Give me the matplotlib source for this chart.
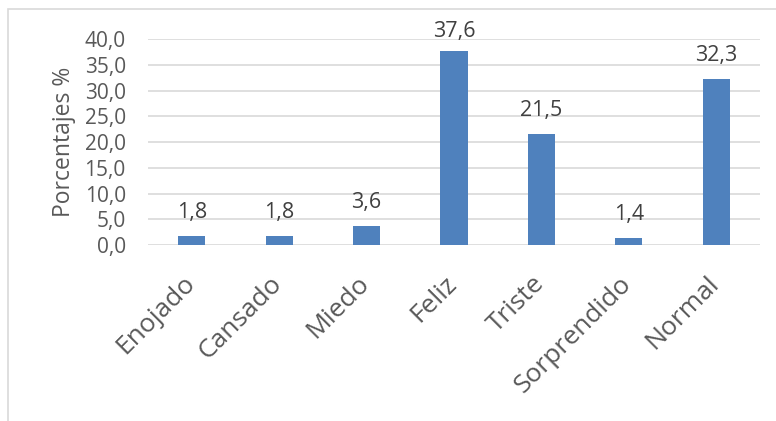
import matplotlib
matplotlib.use("Agg")
import matplotlib.pyplot as plt
from matplotlib.patches import Rectangle
from matplotlib.transforms import ScaledTranslation

categories = ["Enojado", "Cansado", "Miedo", "Feliz", "Triste", "Sorprendido", "Normal"]
values = [1.8, 1.8, 3.6, 37.6, 21.5, 1.4, 32.3]
yticks = [0, 5, 10, 15, 20, 25, 30, 35, 40]

plt.rcParams['font.family'] = ['Open Sans', 'DejaVu Sans']
txt = '#595959'

fig = plt.figure(figsize=(7.76, 4.21), dpi=100)
W, H = 776, 421
ax = fig.add_axes([148 / W, 1 - 245 / H, (760 - 148) / W, (245 - 39) / H])

x = list(range(len(categories)))
ax.bar(x, values, width=0.31, color='#4F81BD', zorder=3)
ax.set_xlim(-0.5, len(categories) - 0.5)
ax.set_ylim(0, 40)
ax.set_yticks(yticks)
ax.set_yticklabels([f"{v:.1f}".replace('.', ',') for v in yticks], color=txt, fontsize=15)
ax.yaxis.grid(True, color='#D9D9D9', linewidth=1.2, zorder=0)
ax.tick_params(axis='both', length=0)
ax.tick_params(axis='y', pad=16)
ax.tick_params(axis='x', pad=0)
for s in ax.spines.values():
    s.set_visible(False)
ax.set_xticks(x)
ax.set_xticklabels(categories, rotation=45, ha='right', va='top', fontsize=19, color=txt)
for lbl in ax.get_xticklabels():
    lbl.set_transform(lbl.get_transform() + ScaledTranslation(8 / 100, -26 / 100, fig.dpi_scale_trans))
ax.set_ylabel("Porcentajes %", color=txt, fontsize=16.5, labelpad=6)

bar_tops = ax.transData.transform([(xi, v) for xi, v in zip(x, values)])
top_limit = H - 37.5  # display coords (origin bottom)
for (xi, v), (_, ypx) in zip(zip(x, values), bar_tops):
    gap = min(18, top_limit - ypx)
    ax.annotate(f"{v:.1f}".replace('.', ','), (xi, v), xytext=(0, gap * 0.72), textcoords='offset points',
                ha='center', va='baseline', color='#404040', fontsize=15.5)

fig.patches.append(Rectangle((8 / W, -0.1), 1.2, 1 - 9 / H + 0.1, transform=fig.transFigure,
                             fill=False, edgecolor='#D9D9D9', linewidth=1.2))

fig.savefig("out.png", dpi=100)
